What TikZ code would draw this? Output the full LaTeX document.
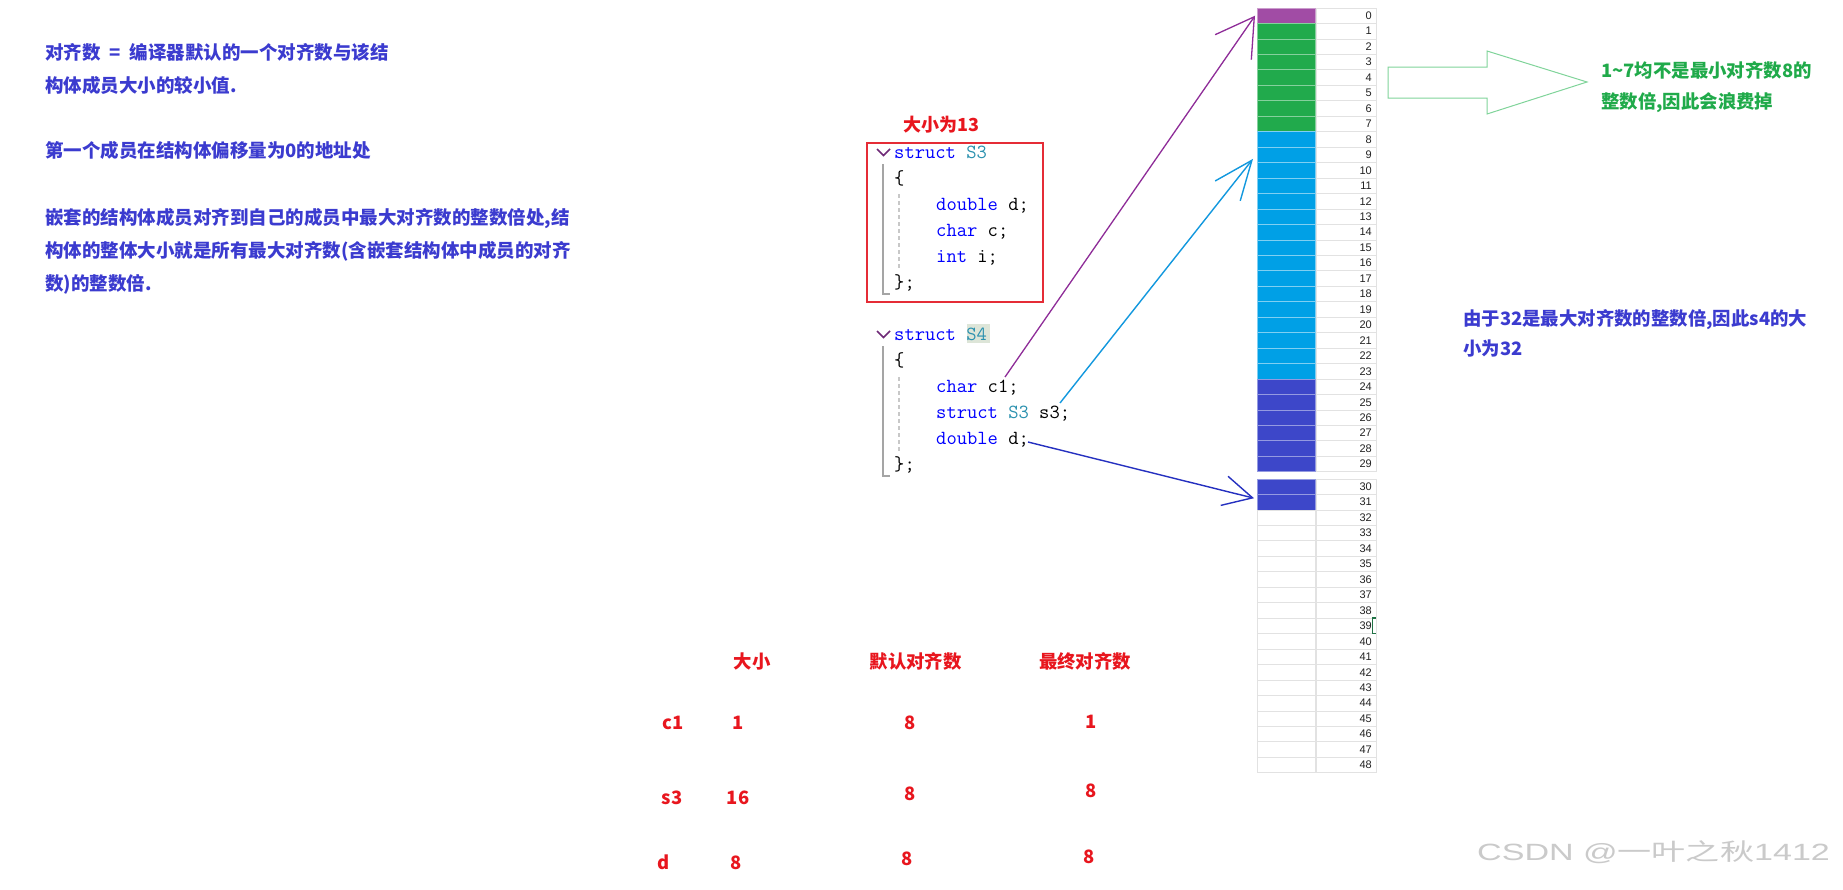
\documentclass[tikz,border=0pt]{standalone}
\usepackage{fontspec}
\usepackage{graphicx}
\newfontfamily\cjk{Noto Sans CJK SC}
\newfontfamily\arialf{Liberation Sans}
\usetikzlibrary{arrows.meta}
\definecolor{noteblue}{HTML}{3B3BCF}
\definecolor{notegreen}{HTML}{20AA4A}
\definecolor{notered}{HTML}{E8161E}
\definecolor{cpurple}{HTML}{A14CA5}
\definecolor{cgreen}{HTML}{21AA4C}
\definecolor{cblue}{HTML}{00A0E6}
\definecolor{cindigo}{HTML}{3D47C9}
\definecolor{apurple}{HTML}{8E2C98}
\definecolor{ablue}{HTML}{1298DE}
\definecolor{adark}{HTML}{2530C0}
\definecolor{hollow}{HTML}{80D49A}
\definecolor{kwblue}{HTML}{0000FF}
\definecolor{tyteal}{HTML}{2B91AF}
\definecolor{guidegray}{HTML}{A5A5A5}
\definecolor{dashgray}{HTML}{C8C8C8}
\definecolor{gridgray}{HTML}{E2E2E2}
\definecolor{numgray}{HTML}{222222}
\definecolor{selgreen}{HTML}{217346}
\definecolor{chevpurple}{HTML}{6F2A77}
\definecolor{hlbg}{HTML}{DDE5D8}
\definecolor{boxred}{HTML}{E52C36}
\definecolor{wmgray}{HTML}{CACACA}
\newcommand\codekw[1]{\textcolor{kwblue}{#1}}
\newcommand\codety[1]{\textcolor{tyteal}{#1}}
\begin{document}
\begin{tikzpicture}[x=1pt,y=-1pt,
  note/.style={anchor=west, inner sep=0, text=noteblue, font=\cjk\bfseries\fontsize{18.5}{22}\selectfont, text height=16.3pt, text depth=2.2pt},
  bignote/.style={anchor=west, inner sep=0, font=\cjk\bfseries\fontsize{18.4}{22}\selectfont, text height=16.2pt, text depth=2.2pt},
  tbl/.style={anchor=center, inner sep=0, text=notered, font=\cjk\bfseries\fontsize{18.4}{22}\selectfont, text height=16.2pt, text depth=2.2pt},
  code/.style={anchor=base west, inner sep=0, font=\ttfamily\fontsize{20}{24}\selectfont},
  cell/.style={anchor=north west, minimum width=58pt, minimum height=15.46pt, inner sep=0, outer sep=0, line width=0.8pt},
  numcell/.style={anchor=north west, minimum width=60pt, minimum height=15.46pt, inner sep=0, outer sep=0, draw=gridgray, line width=0.8pt},
  numtxt/.style={anchor=east, inner sep=0, text=numgray, font=\arialf\fontsize{11}{11}\selectfont},
  guide/.style={draw=guidegray, line width=1.4pt},
  dguide/.style={draw=dashgray, line width=1.2pt, dash pattern=on 4pt off 3pt},
  chev/.style={draw=chevpurple, line width=1.6pt},
  arrp/.style={draw=apurple, line width=1.3pt, -{Straight Barb[length=37pt,width=44pt]}},
  arrb/.style={draw=ablue, line width=1.4pt, -{Straight Barb[length=39pt,width=32pt]}},
  arrd/.style={draw=adark, line width=1.4pt, -{Straight Barb[length=29pt,width=30pt]}},
]
\useasboundingbox (0,0) rectangle (1843,889);
\fill[white] (0,0) rectangle (1843,889);

% left notes
\node[note] (n1) at (45,52) {对齐数\hspace{9pt}=\hspace{9pt}编译器默认的一个对齐数与该结};
\node[note] (n2) at (45,85) {构体成员大小的较小值.};
\node[note] (n3) at (45,150) {第一个成员在结构体偏移量为0的地址处};
\node[note] (n4) at (45,217) {嵌套的结构体成员对齐到自己的成员中最大对齐数的整数倍处,结};
\node[note] (n5) at (45,250) {构体的整体大小就是所有最大对齐数(含嵌套结构体中成员的对齐};
\node[note] (n6) at (45,283) {数)的整数倍.};

% struct S3
\node[bignote, text=notered, font=\cjk\bfseries\fontsize{18}{22}\selectfont] (s3size) at (903,124) {大小为13};
\node[draw=boxred, line width=1.5pt, anchor=north west, minimum width=176pt, minimum height=159pt, inner sep=0] (s3box) at (866,142) {};
\draw[chev] (877,149) -- (883.5,155.5) -- (890,149);
\draw[guide] (883,164) -- (883,294) -- (890,294);
\draw[dguide] (899,194) -- (899,270);
\node[code] (a1) at (894,158) {\codekw{struct} \codety{S3}};
\node[code] (a2) at (894,184) {\{};
\node[code] (a3) at (936,210) {\codekw{double} d;};
\node[code] (a4) at (936,236) {\codekw{char} c;};
\node[code] (a5) at (936,262) {\codekw{int} i;};
\node[code] (a6) at (894,288) {\};};

% struct S4
\fill[hlbg] (967,324) rectangle (989.5,343);
\draw[chev] (877,331) -- (883.5,337.5) -- (890,331);
\draw[guide] (883,346) -- (883,476) -- (890,476);
\draw[dguide] (899,377) -- (899,452);
\node[code] (b1) at (894,340) {\codekw{struct} \codety{S4}};
\node[code] (b2) at (894,366) {\{};
\node[code] (b3) at (936,392) {\codekw{char} c1;};
\node[code] (b4) at (936,418) {\codekw{struct} \codety{S3} s3;};
\node[code] (b5) at (936,444) {\codekw{double} d;};
\node[code] (b6) at (894,470) {\};};

% memory grid
\foreach \i in {0,...,48}{
  \pgfmathsetmacro\rowtop{\i<30 ? 8+15.46*\i : 479+15.46*(\i-30)}
  \ifnum\i=0 \def\clr{cpurple}\def\brd{cpurple!55!white}%
  \else\ifnum\i<8 \def\clr{cgreen}\def\brd{cgreen!55!white}%
  \else\ifnum\i<24 \def\clr{cblue}\def\brd{cblue!50!white}%
  \else\ifnum\i<32 \def\clr{cindigo}\def\brd{cindigo!55!white}%
  \else\def\clr{white}\def\brd{gridgray}\fi\fi\fi\fi
  \node[cell, fill=\clr, draw=\brd] (c\i) at (1257,\rowtop) {};
  \node[numcell] (r\i) at (1316,\rowtop) {};
  \node[numtxt] (t\i) at ([xshift=-4pt]r\i.east) {\i};
}
\draw[selgreen, line width=1.6pt] ([xshift=-0.5pt]r39.north east) -- ++(-3,0) -- ([xshift=-3.5pt]r39.south east) -- ([xshift=-0.5pt]r39.south east);

% arrows
\coordinate (c1tail) at (1005,377);
\coordinate (s3tail) at (1060,403);
\coordinate (dtail) at (1028,442);
\draw[arrp] (c1tail) -- ([shift={(-2,0)}]c0.west);
\draw[arrb] (s3tail) -- ([shift={(-4,4)}]c9.west);
\draw[arrd] (dtail) -- ([shift={(-3,-4)}]c31.west);

% hollow arrow and green note
\draw[hollow, line width=1pt] (1388,67) -- (1487,67) -- (1487,51) -- (1587,82) -- (1487,114) -- (1487,98) -- (1388,98) -- cycle;
\node[bignote, text=notegreen] (g1) at (1601,70) {1\textasciitilde7均不是最小对齐数8的};
\node[bignote, text=notegreen] (g2) at (1601,101) {整数倍,因此会浪费掉};

% right blue note
\node[bignote, text=noteblue] (w1) at (1463,318) {由于32是最大对齐数的整数倍,因此s4的大};
\node[bignote, text=noteblue] (w2) at (1463,348) {小为32};

% table
\node[tbl] (h1) at (752,661) {大小};
\node[tbl] (h2) at (915.6,661) {默认对齐数};
\node[tbl] (h3) at (1085,661) {最终对齐数};
\node[tbl] (r1a) at (673.5,722) {c1};
\node[tbl] (r1b) at (738,722) {1};
\node[tbl] (r1c) at (910,722) {8};
\node[tbl] (r1d) at (1091,721) {1};
\node[tbl] (r2a) at (672,797) {s3};
\node[tbl] (r2b) at (738,797) {16};
\node[tbl] (r2c) at (910,793) {8};
\node[tbl] (r2d) at (1091,790) {8};
\node[tbl] (r3a) at (664,862) {d};
\node[tbl] (r3b) at (736,862) {8};
\node[tbl] (r3c) at (907,858) {8};
\node[tbl] (r3d) at (1089,856) {8};

% watermark
\node[anchor=west, inner sep=0, text=wmgray] (wm) at (1477,852) {\scalebox{1.45}[1]{\arialf\fontsize{23.5}{26}\selectfont CSDN @{\cjk 一叶之秋}1412}};
\end{tikzpicture}
\end{document}
